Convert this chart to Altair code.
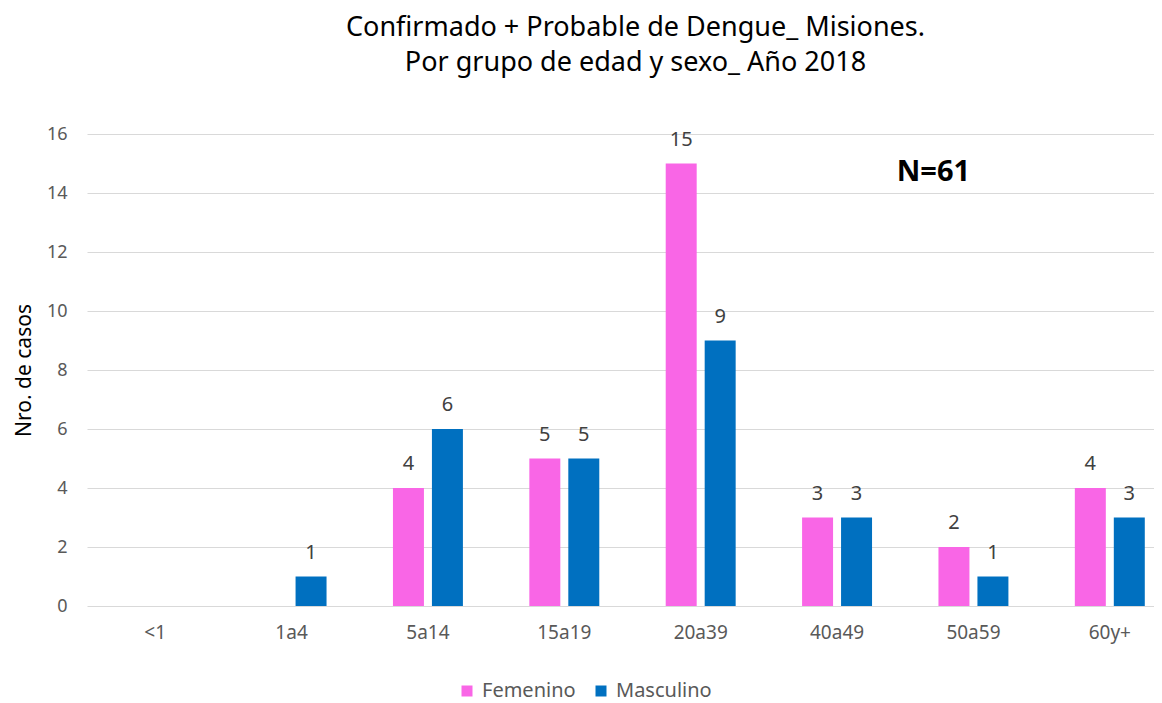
import altair as alt
import pandas as pd

categories = ["<1", "1a4", "5a14", "15a19", "20a39", "40a49", "50a59", "60y+"]
femenino = [0, 0, 4, 5, 15, 3, 2, 4]
masculino = [0, 1, 6, 5, 9, 3, 1, 3]
series = ["Femenino", "Masculino"]
colors = ["#F966E6", "#0070C0"]
y_ticks = [0, 2, 4, 6, 8, 10, 12, 14, 16]
title_lines = ["Confirmado + Probable de Dengue_ Misiones.", "Por grupo de edad y sexo_ Año 2018"]
annotation_text = ["N=61"]
annotation_group = ["50a59"]
annotation_y = [14.71]

rows = []
for c, f, m in zip(categories, femenino, masculino):
    rows.append({"grupo": c, "sexo": series[0], "casos": f})
    rows.append({"grupo": c, "sexo": series[1], "casos": m})
df = pd.DataFrame(rows)
ann = pd.DataFrame({"grupo": annotation_group, "label": annotation_text, "y": annotation_y})

FONT = "Noto Sans"

x_enc = alt.X(
    "grupo:N",
    sort=categories,
    scale=alt.Scale(range=[0, 1091], paddingInner=0.487, paddingOuter=0.2435),
    axis=alt.Axis(title=None, labelAngle=0, ticks=False, domain=False, grid=False,
                  labelPadding=17, labelFontSize=19, labelColor="#595959", labelFont=FONT),
)
xoff = alt.XOffset("sexo:N", sort=series, scale=alt.Scale(paddingInner=0.205, paddingOuter=0))
y_enc = alt.Y(
    "casos:Q",
    scale=alt.Scale(domain=[0, 16]),
    axis=alt.Axis(values=y_ticks, title="Nro. de casos", ticks=False, domain=False,
                  labelPadding=20, labelFontSize=18, labelColor="#595959", labelFont=FONT,
                  gridColor="#D9D9D9", titleFontSize=21, titleFont=FONT, titleFontWeight="normal",
                  titleColor="#000000", titleX=-63, titleY=236, titleAngle=-90,
                  titleAlign="center", titleBaseline="middle"),
)

base = alt.Chart(df)
bars = base.mark_bar().encode(
    x=x_enc,
    xOffset=xoff,
    y=y_enc,
    color=alt.Color(
        "sexo:N", sort=series,
        scale=alt.Scale(domain=series, range=colors),
        legend=alt.Legend(orient="none", legendX=370, legendY=547, direction="horizontal",
                          title=None, symbolType="square", symbolSize=121, symbolStrokeWidth=0,
                          labelFontSize=20, labelColor="#595959", labelFont=FONT,
                          columnPadding=15, labelOffset=5, padding=0),
    ),
)
labels = base.transform_filter(alt.datum.casos > 0).mark_text(
    dy=-24, fontSize=20, color="#404040", font=FONT
).encode(x=x_enc, xOffset=xoff, y=y_enc, text="casos:Q")

note = alt.Chart(ann).mark_text(
    fontSize=29, fontWeight="bold", color="#000000", font=FONT, dx=-40
).encode(x=alt.X("grupo:N", sort=categories), y=alt.Y("y:Q"), text="label:N")

chart = alt.layer(bars, labels, note).properties(
    width=1067,
    height=472,
    autosize=alt.AutoSizeParams(type="none"),
    padding={"left": 79, "top": 126, "right": 0, "bottom": 97},
    title=alt.TitleParams(title_lines, fontSize=27, font=FONT, fontWeight="normal",
                          color="#000000", anchor="middle", dx=15, offset=48, lineHeight=35),
).configure_view(stroke=None)

chart.save("out.html", embed_options={"renderer": "svg", "actions": False})
